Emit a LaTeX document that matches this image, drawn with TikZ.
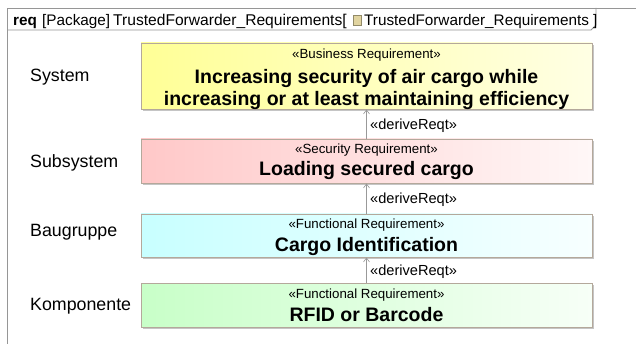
\documentclass[tikz,border=0pt]{standalone}
\usepackage{fontspec}
\setmainfont{Liberation Sans}
\usetikzlibrary{arrows.meta,shadows}
\definecolor{framegray}{RGB}{150,150,150}
\definecolor{boxborder}{RGB}{180,168,155}
\definecolor{yelL}{RGB}{255,255,150}
\definecolor{yelR}{RGB}{255,255,228}
\definecolor{pinkL}{RGB}{255,200,200}
\definecolor{pinkR}{RGB}{255,247,247}
\definecolor{cyanL}{RGB}{200,255,255}
\definecolor{cyanR}{RGB}{247,255,255}
\definecolor{greenL}{RGB}{200,255,200}
\definecolor{greenR}{RGB}{247,255,247}
\definecolor{iconcol}{RGB}{225,212,160}
\begin{document}
\begin{tikzpicture}[x=1pt,y=-1pt,
  reqbox/.style={draw=boxborder, line width=0.9pt, minimum width=451pt, inner sep=0pt,
    drop shadow={shadow xshift=2pt, shadow yshift=-2pt, fill=black!45, opacity=0.5}},
  stereo/.style={anchor=base, inner sep=0pt, font=\fontsize{13.3}{15}\selectfont},
  reqname/.style={anchor=base, inner sep=0pt, font=\fontsize{19.5}{22}\selectfont\bfseries},
  levellabel/.style={anchor=base west, inner sep=0pt, font=\fontsize{17.8}{20}\selectfont},
  derivlabel/.style={anchor=base west, inner sep=0pt, font=\fontsize{14.6}{16}\selectfont},
  deriv/.style={draw=black!40, line width=0.5pt, -{Straight Barb[length=4pt,width=6pt,line width=0.6pt]}},
  titletext/.style={anchor=base west, inner sep=0pt, font=\fontsize{15.3}{17}\selectfont}
]
\useasboundingbox (0,0) rectangle (636,344);
\fill[white] (0,0) rectangle (636,344);
% frame
\draw[framegray, line width=0.9pt] (7,344) -- (7,8) -- (636,8);
\draw[framegray, line width=0.9pt] (596,8) -- (596,25) -- (591,30) -- (7,30);
% title
\node[titletext] (titleA) at (13,26) {\textbf{req}};
\node[titletext] (titleB) at (42,26) {[Package]};
\node[titletext, font=\fontsize{15.6}{17}\selectfont] (titleC) at (113,26) {TrustedForwarder\_Requirements[};
\node[draw=iconcol!65!black, fill=iconcol, line width=0.4pt, minimum width=8pt, minimum height=10pt, inner sep=0pt] (icon) at (357.5,20) {};
\node[titletext] (titleE) at (364,26) {TrustedForwarder\_Requirements ]};
% boxes
\node[reqbox, minimum height=66pt, left color=yelL, right color=yelR] (sys) at (366.5,76) {};
\node[reqbox, minimum height=44pt, left color=pinkL, right color=pinkR] (sub) at (366.5,161) {};
\node[reqbox, minimum height=43pt, left color=cyanL, right color=cyanR] (bg) at (366.5,235.5) {};
\node[reqbox, minimum height=44pt, left color=greenL, right color=greenR] (kp) at (366.5,305) {};
% box texts
\node[stereo] (sysS) at (366.5,59) {«Business Requirement»};
\node[reqname] (sysN1) at (366.5,84) {Increasing security of air cargo while};
\node[reqname] (sysN2) at (366.5,105.5) {increasing or at least maintaining efficiency};
\node[stereo] (subS) at (366.5,154) {«Security Requirement»};
\node[reqname] (subN) at (366.5,176) {Loading secured cargo};
\node[stereo] (bgS) at (366.5,228.5) {«Functional Requirement»};
\node[reqname] (bgN) at (366.5,251.5) {Cargo Identification};
\node[stereo] (kpS) at (366.5,298) {«Functional Requirement»};
\node[reqname] (kpN) at (366.5,321) {RFID or Barcode};
% level labels
\node[levellabel] (l1) at (30,82) {System};
\node[levellabel] (l2) at (30,168) {Subsystem};
\node[levellabel] (l3) at (30,237) {Baugruppe};
\node[levellabel] (l4) at (30,310) {Komponente};
% derive relations
\draw[deriv] (sub.north) -- (sys.south);
\draw[deriv] (bg.north) -- (sub.south);
\draw[deriv] (kp.north) -- (bg.south);
\node[derivlabel] (d1) at (370,130) {«deriveReqt»};
\node[derivlabel] (d2) at (370,204) {«deriveReqt»};
\node[derivlabel] (d3) at (370,276) {«deriveReqt»};
\end{tikzpicture}
\end{document}
